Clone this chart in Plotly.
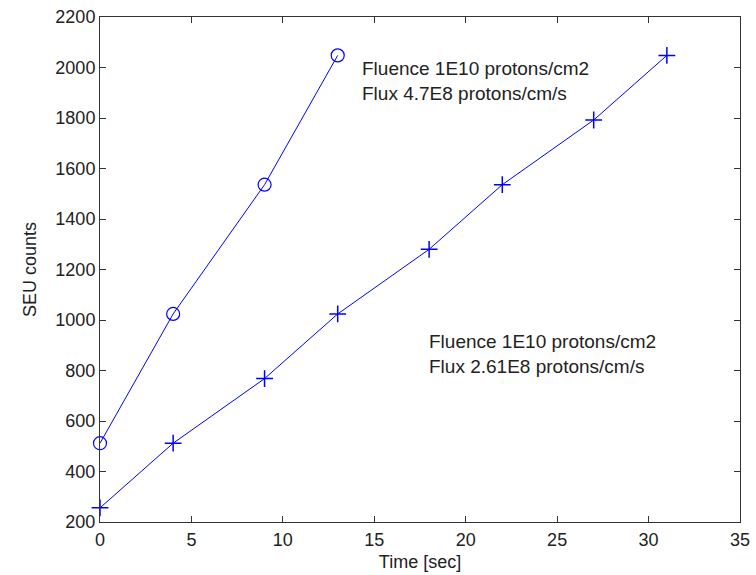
import plotly.graph_objects as go

# Data
time_fast = [0, 4, 9, 13]
seu_fast = [512, 1024, 1536, 2048]
time_slow = [0, 4, 9, 13, 18, 22, 27, 31]
seu_slow = [256, 512, 768, 1024, 1280, 1536, 1792, 2048]

label_fast = "Fluence 1E10 protons/cm2<br>Flux 4.7E8 protons/cm/s"
label_slow = "Fluence 1E10 protons/cm2<br>Flux 2.61E8 protons/cm/s"

x_ticks = [0, 5, 10, 15, 20, 25, 30, 35]
y_ticks = [200, 400, 600, 800, 1000, 1200, 1400, 1600, 1800, 2000, 2200]

blue = "rgb(0,0,255)"
font = "Liberation Sans, Arial, sans-serif"

fig = go.Figure()
fig.add_trace(go.Scatter(
    x=time_fast, y=seu_fast, mode="lines+markers",
    line=dict(color=blue, width=1),
    marker=dict(symbol="circle-open", size=13, color=blue, line=dict(width=1.2, color=blue)),
    showlegend=False, cliponaxis=False,
))
fig.add_trace(go.Scatter(
    x=time_slow, y=seu_slow, mode="lines+markers",
    line=dict(color=blue, width=1),
    marker=dict(symbol="cross-thin-open", size=12, color=blue, line=dict(width=1.5, color=blue)),
    showlegend=False, cliponaxis=False,
))

fig.add_annotation(x=14.2, y=1946, text=label_fast, showarrow=False,
                   xanchor="left", yanchor="middle", align="left",
                   font=dict(family=font, size=19, color="#222"))
fig.add_annotation(x=17.9, y=865, text=label_slow, showarrow=False,
                   xanchor="left", yanchor="middle", align="left",
                   font=dict(family=font, size=19, color="#222"))

axis_common = dict(
    showgrid=False, zeroline=False, showline=True, linecolor="#333", linewidth=1,
    mirror="ticks", ticks="inside", ticklen=6, tickcolor="#333", automargin=False,
    tickfont=dict(family=font, size=18, color="#222"),
)
fig.update_xaxes(range=[0, 35], tickvals=x_ticks, ticklabelstandoff=1,
                 title=dict(text="Time [sec]", font=dict(family=font, size=18, color="#222"), standoff=6),
                 **axis_common)
fig.update_yaxes(range=[200, 2200], tickvals=y_ticks,
                 title=dict(text="SEU counts", font=dict(family=font, size=18, color="#222"), standoff=14),
                 **axis_common)

fig.update_layout(
    width=756, height=575,
    margin=dict(l=100, r=16, t=17, b=53),
    plot_bgcolor="white", paper_bgcolor="white",
)

fig.write_html("out.html")
